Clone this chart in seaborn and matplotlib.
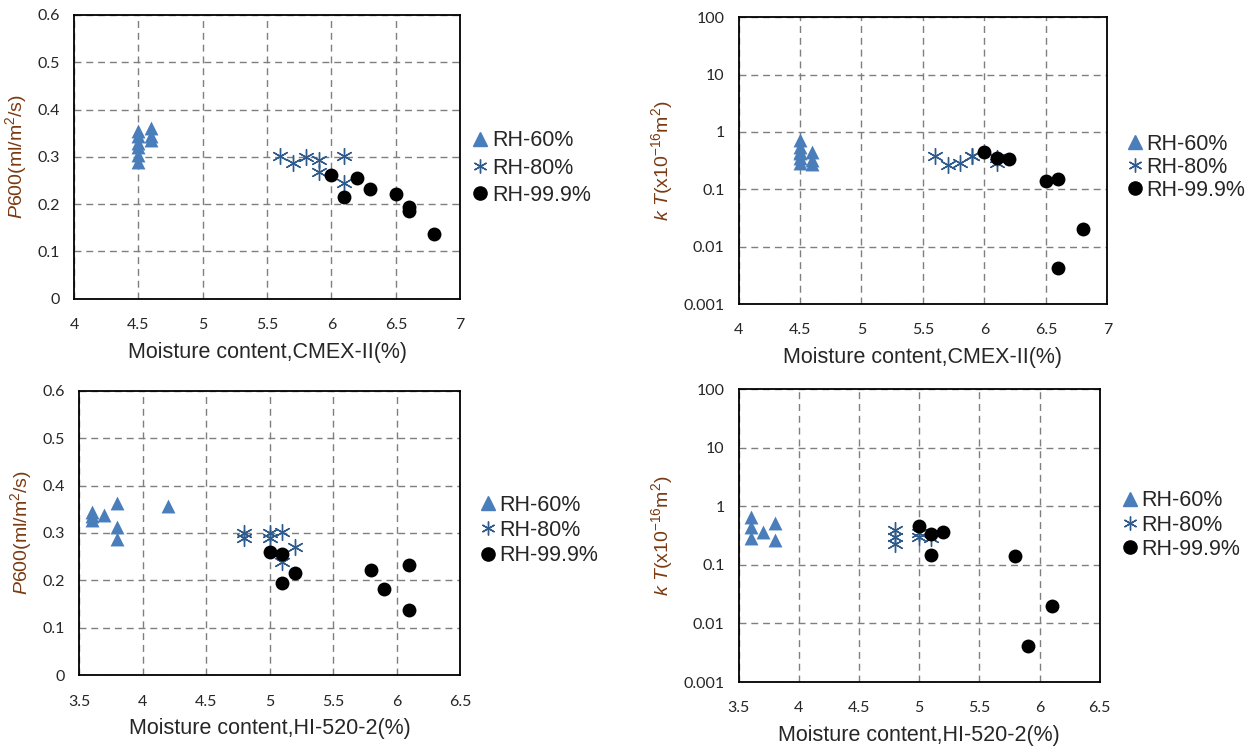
import matplotlib
matplotlib.use('Agg')
import matplotlib.pyplot as plt
import matplotlib.ticker as mticker
from matplotlib.lines import Line2D
import seaborn as sns

# ── data ─────────────────────────────────────────────────────
# top row: CMEX-II moisture
cm60_x   = [4.5, 4.5, 4.5, 4.5, 4.5, 4.5, 4.6, 4.6, 4.6]
cm60_p   = [0.355, 0.345, 0.33, 0.32, 0.305, 0.29, 0.362, 0.345, 0.335]
cm60_kt  = [0.72, 0.55, 0.45, 0.43, 0.35, 0.29, 0.45, 0.33, 0.28]
cm80_x   = [5.6, 5.7, 5.8, 5.9, 5.9, 6.1, 6.1]
cm80_p   = [0.302, 0.287, 0.30, 0.294, 0.269, 0.302, 0.244]
cm80_kt  = [0.38, 0.26, 0.29, 0.38, 0.38, 0.29, 0.35]
cm99_x   = [6.0, 6.1, 6.2, 6.3, 6.5, 6.6, 6.6, 6.8]
cm99_p   = [0.262, 0.215, 0.255, 0.233, 0.222, 0.195, 0.185, 0.138]
cm99_kx  = [6.0, 6.1, 6.2, 6.5, 6.6, 6.8, 6.6]
cm99_kt  = [0.455, 0.35, 0.34, 0.14, 0.15, 0.02, 0.0043]

# bottom row: HI-520-2 moisture
hi60_x   = [3.6, 3.6, 3.6, 3.7, 3.8, 3.8, 3.8, 4.2]
hi60_p   = [0.345, 0.335, 0.327, 0.338, 0.363, 0.313, 0.287, 0.356]
hi60_kx  = [3.6, 3.6, 3.6, 3.7, 3.8, 3.8]
hi60_kt  = [0.67, 0.45, 0.285, 0.37, 0.51, 0.27]
hi80_x   = [4.8, 4.8, 5.0, 5.0, 5.1, 5.2, 5.1]
hi80_p   = [0.299, 0.29, 0.30, 0.29, 0.303, 0.271, 0.239]
hi80_kx  = [4.8, 4.8, 4.8, 5.0, 5.0, 5.1]
hi80_kt  = [0.39, 0.30, 0.23, 0.35, 0.30, 0.29]
hi99_x   = [5.0, 5.1, 5.1, 5.2, 5.8, 5.9, 6.1, 6.1]
hi99_p   = [0.26, 0.255, 0.194, 0.216, 0.222, 0.182, 0.232, 0.137]
hi99_kx  = [5.0, 5.1, 5.2, 5.1, 5.8, 6.1, 5.9]
hi99_kt  = [0.46, 0.34, 0.36, 0.15, 0.14, 0.02, 0.0042]

labels = ['RH-60%', 'RH-80%', 'RH-99.9%']
p_ticks  = [0, 0.1, 0.2, 0.3, 0.4, 0.5, 0.6]
kt_ticks = [0.001, 0.01, 0.1, 1, 10, 100]
kt_ticklabels = ['0.001', '0.01', '0.1', '1', '10', '100']

BLUE_TRI  = '#4A7EBB'
BLUE_STAR = '#2F5A8C'
BLACK     = '#000000'
LBL_COLOR = '#7A3A12'
STAR = (6, 2, 0)

sns.set_theme(style='white')
plt.rcParams.update({
    'font.family': ['Liberation Sans', 'DejaVu Sans'],
    'mathtext.fontset': 'custom',
    'mathtext.rm': 'Liberation Sans',
    'mathtext.it': 'Liberation Sans:italic',
    'axes.edgecolor': 'black',
    'axes.linewidth': 1.3,
})

fig = plt.figure(figsize=(12.54, 7.47), dpi=100)
pos = {
    'tl': [0.059, 0.600, 0.308, 0.380],
    'tr': [0.589, 0.593, 0.294, 0.384],
    'bl': [0.063, 0.096, 0.304, 0.381],
    'br': [0.589, 0.087, 0.288, 0.392],
}
leg_anchor = {'tl': (0.377, 0.775), 'tr': (0.899, 0.776),
              'bl': (0.383, 0.290), 'br': (0.895, 0.297)}
leg_space = {'tl': 0.3, 'tr': 0.1, 'bl': 0.2, 'br': 0.15}

P_LABEL  = r'$\it{P}$600(ml/m$^{2}$/s)'
KT_LABEL = r'$\it{k}$ $\it{T}$(x10$^{-16}$m$^{2}$)'


def draw(key, series, xlim, xticks, xlabel, log):
    ax = fig.add_axes(pos[key])
    (x60, y60), (x80, y80), (x99, y99) = series
    sns.scatterplot(x=x60, y=y60, ax=ax, marker='^', color=BLUE_TRI, s=100,
                    linewidth=0, zorder=3)
    sns.scatterplot(x=x80, y=y80, ax=ax, marker=STAR, color=BLUE_STAR, s=130,
                    linewidth=1.0, zorder=3)
    sns.scatterplot(x=x99, y=y99, ax=ax, marker='o', color=BLACK, s=100,
                    linewidth=0, zorder=4)
    ax.set_xlim(*xlim)
    ax.set_xticks(xticks)
    ax.set_xticklabels([f'{t:g}' for t in xticks], fontsize=11.5, family='Lato')
    if log:
        ax.set_yscale('log')
        ax.set_ylim(0.001, 100)
        ax.yaxis.set_major_locator(mticker.FixedLocator(kt_ticks))
        ax.yaxis.set_minor_locator(mticker.NullLocator())
        ax.set_yticklabels(kt_ticklabels, fontsize=11.5, family='Lato')
        ax.set_ylabel(KT_LABEL, fontsize=14, color=LBL_COLOR, labelpad=6)
    else:
        ax.set_ylim(0, 0.6)
        ax.set_yticks(p_ticks)
        ax.set_yticklabels([f'{t:g}' for t in p_ticks], fontsize=11.5, family='Lato')
        ax.set_ylabel(P_LABEL, fontsize=14, color=LBL_COLOR, labelpad=6)
    ax.set_xlabel(xlabel, fontsize=15.5, labelpad=7)
    ax.tick_params(axis='x', length=0, pad=14)
    ax.tick_params(axis='y', length=0, pad=10)
    ax.grid(True, color='#7f7f7f', linestyle=(0, (5, 3.5)), linewidth=1.0)
    ax.set_axisbelow(True)
    for s in ax.spines.values():
        s.set_visible(True)

    handles = [
        Line2D([], [], marker='^', color=BLUE_TRI, linestyle='', markersize=9.5),
        Line2D([], [], marker=STAR, color=BLUE_STAR, linestyle='', markersize=10,
               markeredgewidth=1.0),
        Line2D([], [], marker='o', color=BLACK, linestyle='', markersize=9.5),
    ]
    fig.legend(handles, labels, loc='center left', bbox_to_anchor=leg_anchor[key],
               frameon=False, fontsize=15.5, handlelength=0.7, handletextpad=0.2,
               labelspacing=leg_space[key], borderpad=0, borderaxespad=0)
    return ax


draw('tl', [(cm60_x, cm60_p), (cm80_x, cm80_p), (cm99_x, cm99_p)],
     (4, 7), [4, 4.5, 5, 5.5, 6, 6.5, 7], 'Moisture content,CMEX-II(%)', False)
draw('tr', [(cm60_x, cm60_kt), (cm80_x, cm80_kt), (cm99_kx, cm99_kt)],
     (4, 7), [4, 4.5, 5, 5.5, 6, 6.5, 7], 'Moisture content,CMEX-II(%)', True)
draw('bl', [(hi60_x, hi60_p), (hi80_x, hi80_p), (hi99_x, hi99_p)],
     (3.5, 6.5), [3.5, 4, 4.5, 5, 5.5, 6, 6.5], 'Moisture content,HI-520-2(%)', False)
draw('br', [(hi60_kx, hi60_kt), (hi80_kx, hi80_kt), (hi99_kx, hi99_kt)],
     (3.5, 6.5), [3.5, 4, 4.5, 5, 5.5, 6, 6.5], 'Moisture content,HI-520-2(%)', True)

plt.savefig('out.png', dpi=100)
plt.close()
